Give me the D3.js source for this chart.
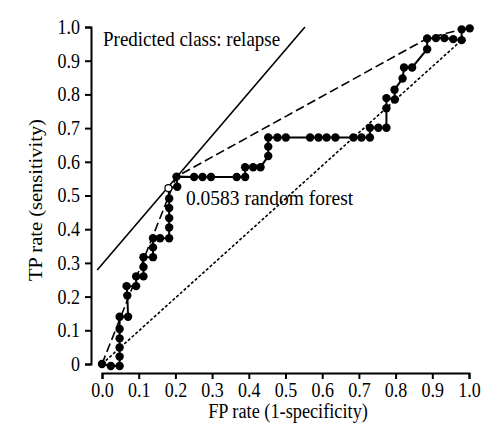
<!DOCTYPE html>
<html>
<head>
<meta charset="utf-8">
<script src="https://cdn.jsdelivr.net/npm/d3@7"></script>
<style>
  body { margin: 0; background: #fff; }
  text { font-family: "Liberation Serif", "Times New Roman", serif; fill: #000; }
</style>
</head>
<body>
<div id="chart-area"></div>
<script>
// ROC curve points (FP rate, TP rate)
const rocFpr = [0, 0.024, 0.048, 0.048, 0.048, 0.048, 0.048, 0.048, 0.071, 0.069, 0.067, 0.093, 0.093,
    0.113, 0.113, 0.113, 0.139, 0.139, 0.139, 0.158, 0.183, 0.183, 0.183, 0.183, 0.183, 0.181, 0.205,
    0.203, 0.251, 0.274, 0.297, 0.367, 0.390, 0.390, 0.412, 0.432, 0.453, 0.453, 0.453, 0.478, 0.501,
    0.567, 0.590, 0.612, 0.636, 0.685, 0.707, 0.730, 0.730, 0.753, 0.775, 0.775, 0.775, 0.798, 0.797,
    0.819, 0.823, 0.845, 0.886, 0.886, 0.910, 0.933, 0.957, 0.980, 0.980, 1.002];
const rocTpr = [0, -0.006, -0.006, 0.022, 0.049, 0.076, 0.104, 0.140, 0.140, 0.203, 0.231, 0.231, 0.260,
    0.260, 0.288, 0.317, 0.317, 0.346, 0.373, 0.373, 0.373, 0.405, 0.433, 0.463, 0.491, 0.522, 0.526,
    0.556, 0.555, 0.555, 0.555, 0.555, 0.555, 0.584, 0.584, 0.584, 0.617, 0.645, 0.672, 0.672, 0.672,
    0.672, 0.672, 0.672, 0.672, 0.672, 0.672, 0.672, 0.701, 0.701, 0.701, 0.759, 0.789, 0.785, 0.814,
    0.847, 0.880, 0.880, 0.934, 0.966, 0.967, 0.967, 0.964, 0.961, 0.993, 0.996];
const chosenIndex = 25; // open circle: threshold 0.0583

// convex hull (dashed), chance-like line (dotted), iso-performance line (solid)
const hullFpr = [0, 0.203, 0.886, 0.980, 1.002];
const hullTpr = [0, 0.556, 0.966, 0.993, 0.996];
const dotFpr = [0, 0.980];
const dotTpr = [0, 0.961];
const isoFpr = [-0.013, 0.553];
const isoTpr = [0.279, 1.0];

const xTicks = [0, 0.1, 0.2, 0.3, 0.4, 0.5, 0.6, 0.7, 0.8, 0.9, 1.0];
const yTicks = [0, 0.1, 0.2, 0.3, 0.4, 0.5, 0.6, 0.7, 0.8, 0.9, 1.0];

const width = 487;
const height = 436;
const stretch = 1.12; // the original figure is a bit taller than wide

const svg = d3.select("#chart-area")
    .append("svg")
    .attr("width", width)
    .attr("height", height);

const x = d3.scaleLinear().domain([0, 1]).range([102, 469]);
const y = d3.scaleLinear().domain([0, 1]).range([364, 27]);

// axes, detached from the plot area
const xAxis = svg.append("g")
    .attr("transform", "translate(0,373)")
    .call(d3.axisBottom(x).tickValues(xTicks).tickSizeOuter(0).tickSize(6)
        .tickFormat(d3.format(".1f")));

const yAxis = svg.append("g")
    .attr("transform", "translate(91,0)")
    .call(d3.axisLeft(y).tickValues(yTicks).tickSizeOuter(0).tickSize(6).tickPadding(5)
        .tickFormat(d => d === 0 ? "0" : d3.format(".1f")(d)));

[xAxis, yAxis].forEach(g => {
    g.selectAll("path, line").attr("stroke", "#000").attr("stroke-width", 2);
    g.selectAll("text")
        .attr("font-family", "Liberation Serif")
        .attr("font-size", 18)
        .attr("fill", "#000")
        .attr("transform", `scale(1,${stretch})`);
});
xAxis.selectAll("text").attr("y", 24 / stretch).attr("dy", 0);

const line = d3.line()
    .x(d => x(d[0]))
    .y(d => y(d[1]));

const zip = (a, b) => a.map((v, i) => [v, b[i]]);

svg.append("path")
    .attr("d", line(zip(dotFpr, dotTpr)))
    .attr("fill", "none")
    .attr("stroke", "#000")
    .attr("stroke-width", 1.6)
    .attr("stroke-dasharray", "3,2");

svg.append("path")
    .attr("d", line(zip(hullFpr, hullTpr)))
    .attr("fill", "none")
    .attr("stroke", "#000")
    .attr("stroke-width", 1.6)
    .attr("stroke-dasharray", "9,4");

svg.append("path")
    .attr("d", line(zip(isoFpr, isoTpr)))
    .attr("fill", "none")
    .attr("stroke", "#000")
    .attr("stroke-width", 1.6);

const roc = zip(rocFpr, rocTpr);

svg.append("path")
    .attr("d", line(roc))
    .attr("fill", "none")
    .attr("stroke", "#000")
    .attr("stroke-width", 2);

svg.selectAll("circle.pt")
    .data(roc)
    .enter().append("circle")
    .attr("class", "pt")
    .attr("cx", d => x(d[0]))
    .attr("cy", d => y(d[1]))
    .attr("r", (d, i) => i === chosenIndex ? 3.5 : 4.2)
    .attr("fill", (d, i) => i === chosenIndex ? "#fff" : "#000")
    .attr("stroke", "#000")
    .attr("stroke-width", (d, i) => i === chosenIndex ? 1.2 : 0);

// labels
svg.append("text")
    .attr("transform", `translate(103,46) scale(1,${stretch})`)
    .attr("font-size", 19)
    .text("Predicted class: relapse");

svg.append("text")
    .attr("transform", `translate(186,205) scale(1,${stretch})`)
    .attr("font-size", 19.5)
    .text("0.0583 random forest");

svg.append("text")
    .attr("transform", `translate(288,418) scale(1,${stretch})`)
    .attr("text-anchor", "middle")
    .attr("font-size", 18.3)
    .text("FP rate (1-specificity)");

svg.append("text")
    .attr("transform", `translate(42,200) rotate(-90) scale(${stretch},1)`)
    .attr("text-anchor", "middle")
    .attr("font-size", 18.3)
    .text("TP rate (sensitivity)");
</script>
</body>
</html>
